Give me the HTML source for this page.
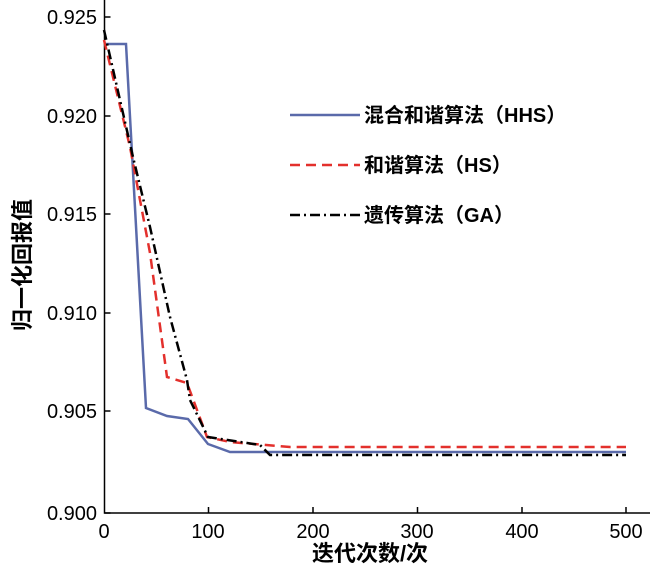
<!DOCTYPE html><html><head><style>body{margin:0;background:#fff}svg text{font-family:"Liberation Sans","Noto Sans CJK SC",sans-serif;fill:#000}</style></head><body>
<svg width="650" height="567" xmlns="http://www.w3.org/2000/svg">
<g stroke="#000" stroke-width="1.5" fill="none">
<path d="M104.5 0V513H650"/>
<path d="M104.5 17h6M104.5 116h6M104.5 214h6M104.5 313h6M104.5 411h6M104.5 513h6"/>
<path d="M208.5 513v-6M313 513v-6M417.5 513v-6M522 513v-6M626 513v-6"/>
</g>
<g font-size="20" text-anchor="end">
<text x="97" y="24">0.925</text><text x="97" y="123">0.920</text><text x="97" y="221">0.915</text><text x="97" y="320">0.910</text><text x="97" y="418">0.905</text><text x="97" y="520">0.900</text>
</g>
<g font-size="20" text-anchor="middle">
<text x="104" y="538">0</text><text x="208" y="538">100</text><text x="313" y="538">200</text><text x="417" y="538">300</text><text x="522" y="538">400</text><text x="626" y="538">500</text>
</g>
<text x="370" y="561" font-size="22" font-weight="bold" text-anchor="middle">迭代次数/次</text>
<text transform="translate(30,265) rotate(-90)" font-size="22" font-weight="bold" text-anchor="middle">归一化回报值</text>
<polyline fill="none" stroke="#5a6aaa" stroke-width="2.5" points="104,44 126,44 146,408 167,416 188,419 208,444 230,452 626,452"/>
<polyline fill="none" stroke="#e3302c" stroke-width="2.5" stroke-dasharray="10,6" points="104,40 130,147 150,253 167,377 187,383 207,437 230,442 290,447 626,447"/>
<polyline fill="none" stroke="#000" stroke-width="2.5" stroke-dasharray="10,4,2,4" points="104,30 133,157 150,227 170,317 187,380 190,400 208,437 260,445 270,455 626,455"/>
<line x1="290" y1="115" x2="360" y2="115" stroke="#5a6aaa" stroke-width="2.5"/>
<line x1="290" y1="165" x2="360" y2="165" stroke="#e3302c" stroke-width="2.5" stroke-dasharray="10,6"/>
<line x1="290" y1="215" x2="360" y2="215" stroke="#000" stroke-width="2.5" stroke-dasharray="10,4,2,4"/>
<g font-size="20" font-weight="bold">
<text x="364" y="122">混合和谐算法（HHS）</text>
<text x="364" y="172">和谐算法（HS）</text>
<text x="364" y="222">遗传算法（GA）</text>
</g>
</svg></body></html>
